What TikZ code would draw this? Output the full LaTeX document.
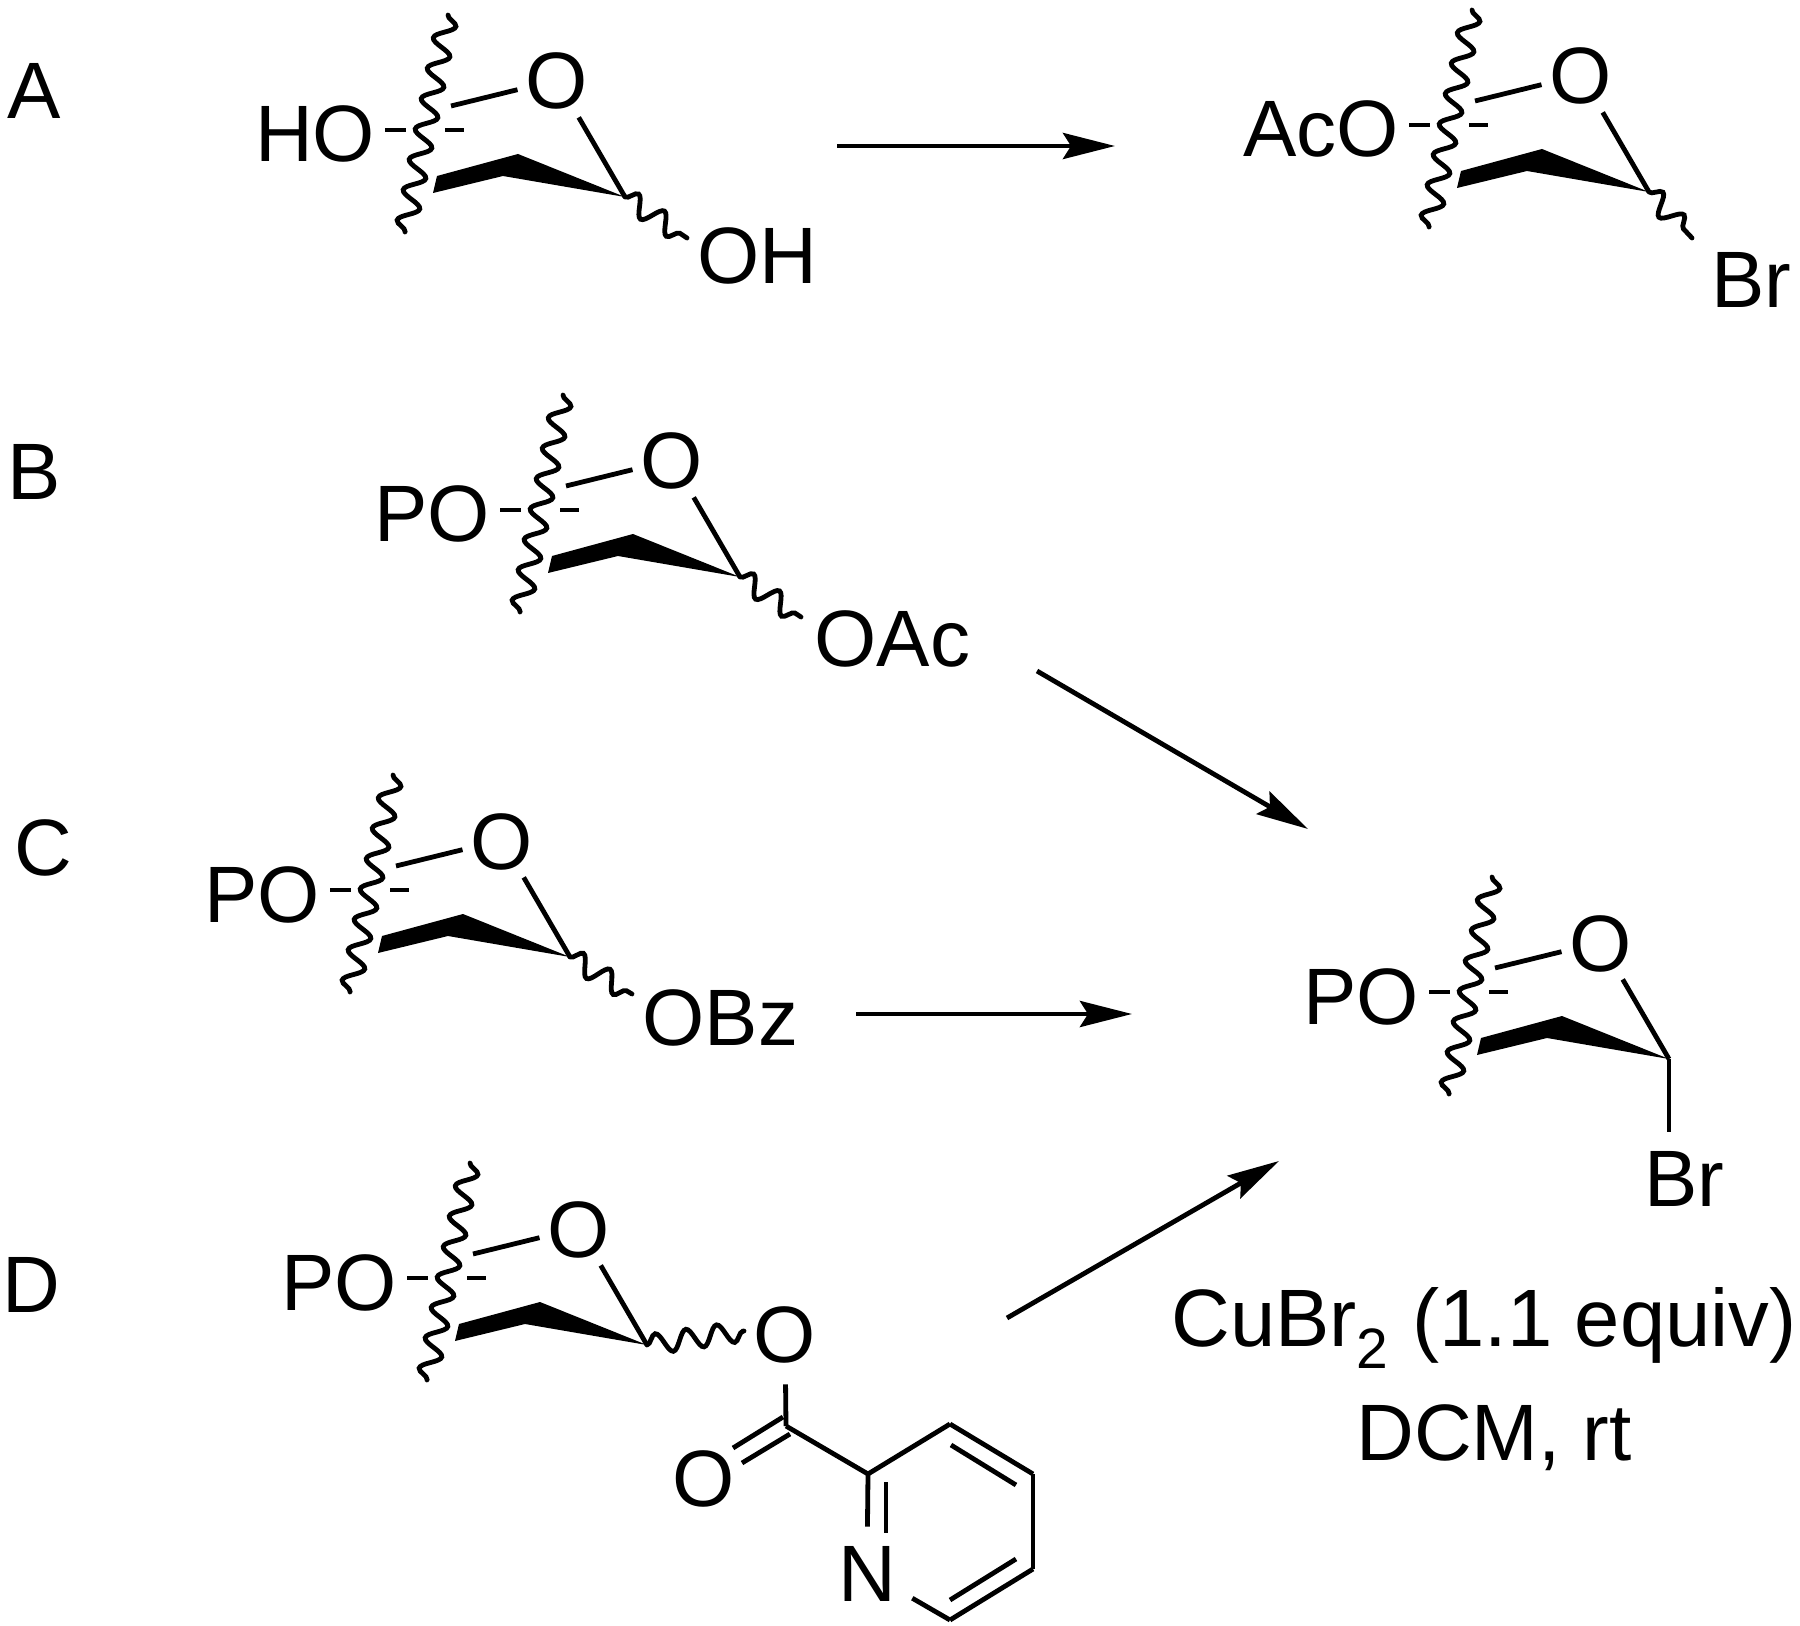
\documentclass[tikz,border=0pt]{standalone}
\usepackage{fontspec}
\setmainfont{Liberation Sans}
\usetikzlibrary{arrows.meta,decorations.pathmorphing}
\begin{document}
\begin{tikzpicture}[x=0.5pt, y=-0.5pt, line width=2.4pt,
        lab/.style = {font=\fontsize{40}{46}\selectfont, text height=29pt, text depth=0pt, inner sep=0pt},
        atom/.style = {lab, inner sep=3pt},
        wavy/.style = {line cap=round, decorate, decoration={snake, segment length=15.5pt, amplitude=5pt}},
        arrow/.style = {-{Stealth[length=26pt, width=13pt, inset=4pt]}},
        sugar/.pic = {
            \node[atom] (O) at (0,0) {O};
            \node[lab, inner sep=3.7pt, anchor=east] (L) at (-172,53) {#1};
            \coordinate (C1) at (68,117);
            \coordinate (C5) at (-106,26);
            \coordinate (D1) at (-172,50);
            \coordinate (D2) at (-151,50);
            \coordinate (D3) at (-112,50);
            \coordinate (D4) at (-93,50);
            \coordinate (T) at (-109,-65);
            \coordinate (B) at (-152,152);
            \draw (O) to (C5);
            \draw (O) to (C1);
            \draw (D1) to (D2);
            \draw (D3) to (D4);
            \draw [wavy] (T) to (B);
            \fill (-120,96) -- (-39,74) -- (C1) -- (-54,96) -- (-124,113) -- cycle;
        }]
        \useasboundingbox (0,0) rectangle (1800,1626);
        % row labels
        \node[lab] (A) at (34,90) {A};
        \node[lab] (Bl) at (34,471) {B};
        \node[lab] (Cl) at (43,846) {C};
        \node[lab] (Dl) at (31,1283) {D};
        % sugars
        \pic (a) at (557,80) {sugar={HO}};
        \pic (ac) at (1581,75) {sugar={AcO}};
        \pic (b) at (672,460) {sugar={PO}};
        \pic (c) at (502,840) {sugar={PO}};
        \pic (d) at (579,1228) {sugar={PO}};
        \pic (p) at (1601,942) {sugar={PO}};
        % anomeric groups
        \node[lab, anchor=west] (aOH) at (695,255) {OH};
        \coordinate (aE) at (687,238);
        \draw [wavy] (aC1) to (aE);
        \node[lab, anchor=west] (acBr) at (1709,279) {Br};
        \coordinate (acE) at (1692,238);
        \draw [wavy] (acC1) to (acE);
        \node[lab, anchor=west] (bOAc) at (812,637) {OAc};
        \coordinate (bE) at (801,617);
        \draw [wavy] (bC1) to (bE);
        \node[lab, anchor=west] (cOBz) at (640,1016) {OBz};
        \coordinate (cE) at (632,994);
        \draw [wavy] (cC1) to (cE);
        \node[lab] (pBr) at (1684,1177) {Br};
        \coordinate (pE) at (1669,1132);
        \draw (pC1) to (pE);
        % picolinate
        \node[atom, inner sep=10pt] (O2) at (785,1333) {O};
        \coordinate (dE) at (744,1331);
        \draw [wavy] (dC1) to (dE);
        \coordinate (1) at (786,1426);
        \node[atom] (O3) at (704,1477) {O};
        \coordinate (2) at (868,1474);
        \coordinate (3) at (950,1424);
        \coordinate (4) at (1033,1474);
        \coordinate (5) at (1033,1569);
        \coordinate (6) at (950,1620);
        \node[atom, inner sep=7pt] (N) at (867,1572) {N};
        \coordinate (7) at (783,1417);
        \coordinate (8) at (733,1448);
        \coordinate (9) at (790,1434);
        \coordinate (10) at (742,1463);
        \coordinate (11) at (951,1445);
        \coordinate (12) at (1016,1485);
        \coordinate (13) at (1016,1559);
        \coordinate (14) at (950,1600);
        \coordinate (15) at (886,1482);
        \coordinate (16) at (886,1533);
        \draw (O2) to (1);
        \draw (7) to (8);
        \draw (9) to (10);
        \draw (1) to (2);
        \draw (2) to (3);
        \draw (3) to (4);
        \draw (4) to (5);
        \draw (5) to (6);
        \draw (6) to (N);
        \draw (N) to (2);
        \draw (11) to (12);
        \draw (13) to (14);
        \draw (15) to (16);
        % arrows
        \coordinate (s1) at (837,146);
        \coordinate (e1) at (1115,146);
        \coordinate (s2) at (1037,671);
        \coordinate (e2) at (1308,829);
        \coordinate (s3) at (856,1014);
        \coordinate (e3) at (1132,1014);
        \coordinate (s4) at (1007,1318);
        \coordinate (e4) at (1279,1161);
        \draw [arrow] (s1) to (e1);
        \draw [arrow] (s2) to (e2);
        \draw [arrow] (s3) to (e3);
        \draw [arrow] (s4) to (e4);
        % conditions
        \node[lab, font=\fontsize{40.7}{46}\selectfont] (cond) at (1484,1317) {CuBr\textsubscript{2} (1.1 equiv)};
        \node[lab] (solv) at (1494,1431) {DCM, rt};
    \end{tikzpicture}
\end{document}
